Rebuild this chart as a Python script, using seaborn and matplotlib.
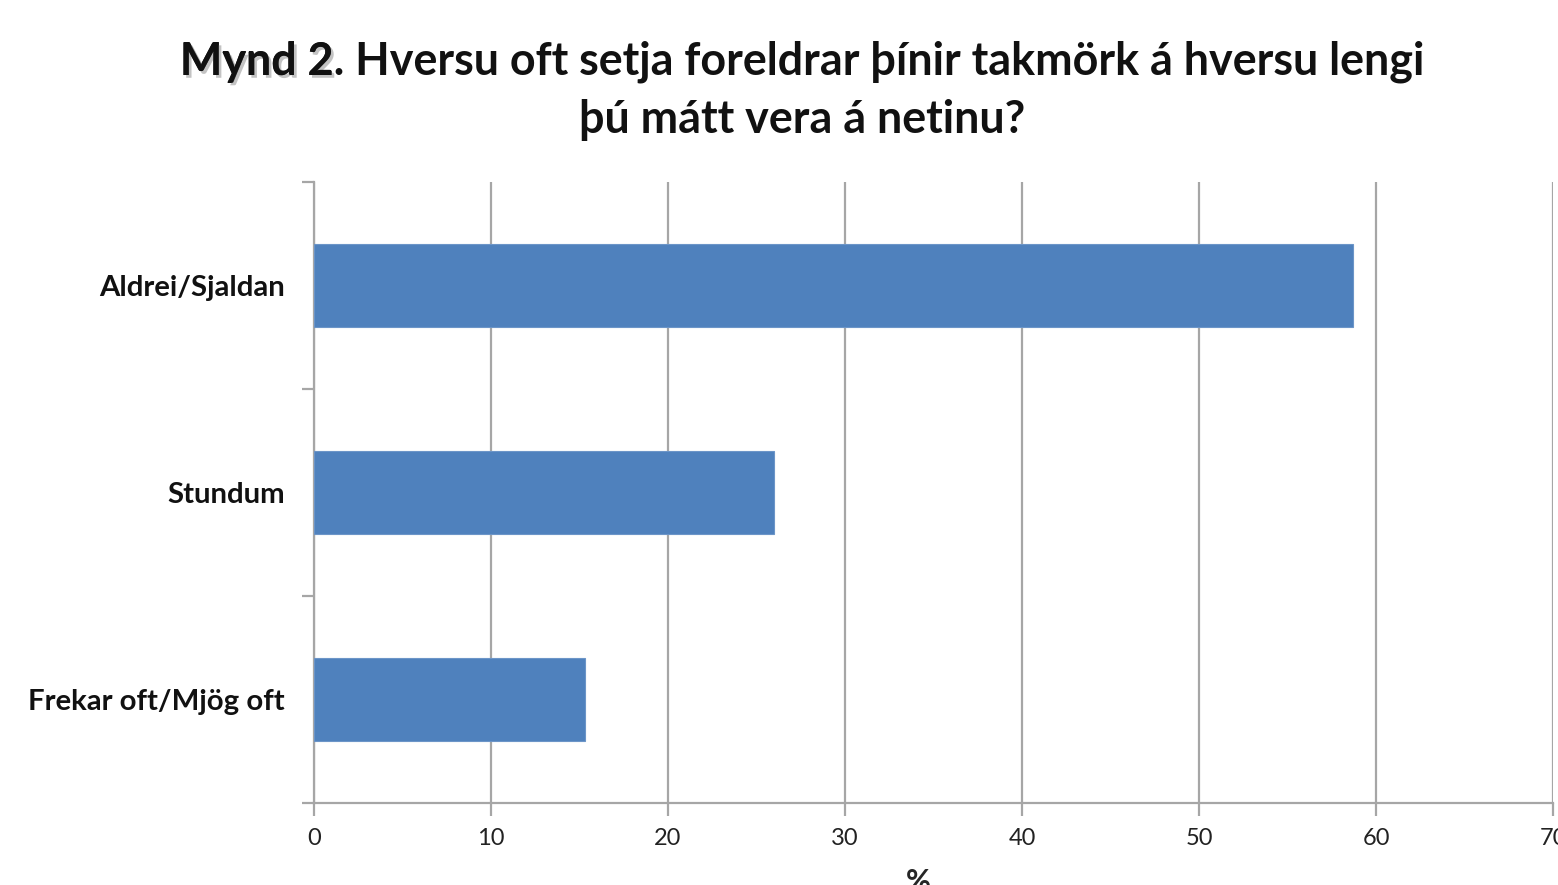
import matplotlib
matplotlib.use("Agg")
import matplotlib.pyplot as plt
import matplotlib.patheffects as pe
import seaborn as sns
import pandas as pd

categories = ["Aldrei/Sjaldan", "Stundum", "Frekar oft/Mjög oft"]
values = [58.7, 26.0, 15.3]
xticks = [0, 10, 20, 30, 40, 50, 60, 70]
title_prefix = "Mynd 2"
title_line1 = "Mynd 2. Hversu oft setja foreldrar þínir takmörk á hversu lengi"
title_line2 = "þú mátt vera á netinu?"
xlabel = "%"

sns.set_theme(style="white")
plt.rcParams["font.family"] = ["Lato", "DejaVu Sans"]

df = pd.DataFrame({"cat": categories, "val": values})

fig = plt.figure(figsize=(15.58, 8.85), dpi=100)
ax = fig.add_axes([314/1558, 1-803/885, (1553-314)/1558, (803-182)/885])

sns.barplot(data=df, x="val", y="cat", order=categories, color="#4F81BD",
            saturation=1, width=0.4, ax=ax, edgecolor="#6C95C8", linewidth=0.8, zorder=3)

grid_c = "#A6A6A6"
ax.set_xlim(0, 70)
ax.set_ylim(2.5, -0.5)
ax.set_xticks(xticks)
ax.set_xticklabels([str(t) for t in xticks], fontsize=17, color="#222222")
ax.xaxis.grid(True, color=grid_c, linewidth=1.6, zorder=0)
ax.set_axisbelow(True)
ax.tick_params(axis="x", direction="out", length=9, width=1.6, color=grid_c, pad=9, bottom=True)

ax.set_yticks([-0.5, 0.5, 1.5, 2.5])
ax.set_yticklabels([])
ax.set_yticks([0, 1, 2], minor=True)
ax.set_yticklabels(categories, minor=True, fontsize=21.2, fontweight="bold", color="#111111")
ax.tick_params(axis="y", which="major", direction="out", length=9, width=1.6, color=grid_c, left=True)
ax.tick_params(axis="y", which="minor", length=0, pad=21)

for s in ["top", "right"]:
    ax.spines[s].set_visible(False)
for s in ["left", "bottom"]:
    ax.spines[s].set_color(grid_c)
    ax.spines[s].set_linewidth(1.6)

ax.set_ylabel("")
ax.set_xlabel(xlabel, fontsize=22, fontweight="bold", labelpad=15)
ax.xaxis.set_label_coords((918-314)/1239, -0.105)

cx = 802/1558
fs = 32.3
t1 = fig.text(cx, 1-62/885, title_line1, ha="center", va="center",
              fontsize=fs, fontweight="bold", color="#111111")
fig.text(cx, 1-120/885, title_line2, ha="center", va="center",
         fontsize=fs, fontweight="bold", color="#111111")

fig.canvas.draw()
bb = t1.get_window_extent()
x0 = bb.x0 / fig.bbox.width
fig.text(x0, 1-62/885, title_prefix, ha="left", va="center", fontsize=fs,
         fontweight="bold", color="#111111",
         path_effects=[pe.SimplePatchShadow(offset=(2, -2), shadow_rgbFace="#888888", alpha=0.5), pe.Normal()])

fig.savefig("out.png", dpi=100)
